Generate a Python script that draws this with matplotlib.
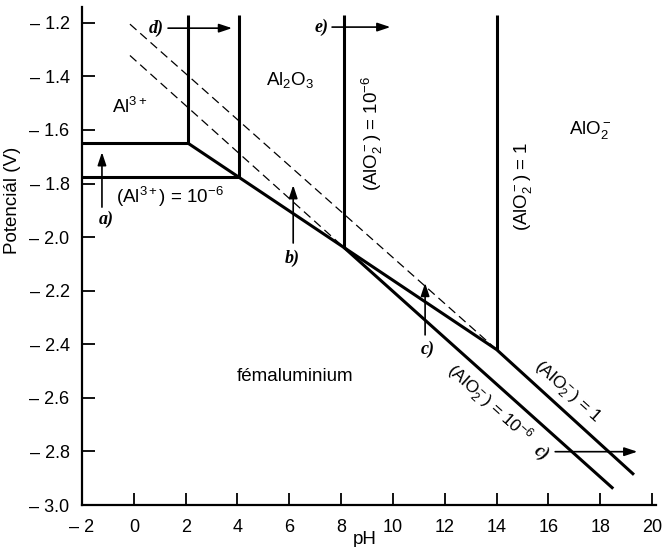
import matplotlib
matplotlib.use("Agg")
import matplotlib.pyplot as plt

plt.rcParams['font.family'] = ['Liberation Sans', 'DejaVu Sans']
plt.rcParams['mathtext.fontset'] = 'custom'
plt.rcParams['mathtext.rm'] = 'Liberation Sans'
plt.rcParams['mathtext.it'] = 'Liberation Sans:italic'

# axis ticks
ph_ticks = [-2, 0, 2, 4, 6, 8, 10, 12, 14, 16, 18, 20]
ph_labels = ['– 2', '0', '2', '4', '6', '8', '10', '12', '14', '16', '18', '20']
e_ticks = [-3.0, -2.8, -2.6, -2.4, -2.2, -2.0, -1.8, -1.6, -1.4, -1.2]
e_labels = ['– 3.0', '– 2.8', '– 2.6', '– 2.4', '– 2.2', '– 2.0', '– 1.8', '– 1.6', '– 1.4', '– 1.2']

# solid boundary lines (pH list, E list)
al3_1_ph = [-2, 2.1, 2.1]
al3_1_e = [-1.65, -1.65, -1.17]
al3_6_ph = [-2, 4.05, 4.05]
al3_6_e = [-1.775, -1.775, -1.17]
al2o3_ph = [2.1, 14.0]
al2o3_e = [-1.65, -2.42]
v8_ph = [8.1, 8.1]
v8_e = [-2.038, -1.17]
v14_ph = [14.0, 14.0]
v14_e = [-2.42, -1.17]
alo2_6_ph = [8.1, 18.5]
alo2_6_e = [-2.038, -2.939]
alo2_1_ph = [14.0, 19.3]
alo2_1_e = [-2.42, -2.887]

# dashed (metastable) extensions
dash_6_ph = [-0.15, 8.1]
dash_6_e = [-1.322, -2.038]
dash_1_ph = [-0.15, 14.0]
dash_1_e = [-1.205, -2.42]

# arrows: (label, label pH, label E, tail pH, tail E, head pH, head E)
arrows = [
    ('a)', -1.05, -1.935, -1.23, -1.888, -1.23, -1.683),
    ('b)', 6.1, -2.08, 6.15, -2.022, 6.15, -1.806),
    ('c)', 11.35, -2.42, 11.24, -2.365, 11.24, -2.171),
    ('d)', 1.15, -1.22, 1.32, -1.22, 3.79, -1.22),
    ('e)', 7.5, -1.216, 7.65, -1.216, 9.9, -1.216),
    ('c)', 16.15, -2.805, 16.26, -2.801, 19.43, -2.801),
]

fig = plt.figure(figsize=(6.62, 5.47), dpi=100)
ax = fig.add_axes([82/662, 42/547, 574/662, 498/547])

lw = 2.2
for xs, ys in [(al3_1_ph, al3_1_e), (al3_6_ph, al3_6_e), (al2o3_ph, al2o3_e),
               (v8_ph, v8_e), (v14_ph, v14_e), (alo2_6_ph, alo2_6_e), (alo2_1_ph, alo2_1_e)]:
    ax.plot(xs, ys, color='black', lw=lw, solid_capstyle='butt')
for xs, ys in [(dash_6_ph, dash_6_e), (dash_1_ph, dash_1_e)]:
    ax.plot(xs, ys, color='black', lw=0.9, ls=(0, (7, 4)))

for lab, lx, ly, tx, ty, hx, hy in arrows:
    ax.annotate('', xy=(hx, hy), xytext=(tx, ty),
                arrowprops=dict(arrowstyle='-|>,head_length=0.6,head_width=0.2', lw=1.2,
                                color='black', mutation_scale=13, shrinkA=0, shrinkB=0))
    rot = -35 if (lab == 'c)' and lx > 15) else 0
    ax.text(lx, ly, lab, family='Liberation Serif', style='italic', fontweight='bold',
            fontsize=13, ha='right' if ty == hy else 'center', va='center', rotation=rot)

fs = 13.5
ax.text(-0.15, -1.515, 'Al$^{3+}$', fontsize=fs, ha='center', va='center')
ax.text(6.03, -1.414, 'Al$_2$O$_3$', fontsize=fs, ha='center', va='center')
ax.text(17.6, -1.6, 'AlO$_2^-$', fontsize=fs, ha='center', va='center')
ax.text(1.4, -1.85, '(Al$^{3+}$) = 10$^{-6}$', fontsize=fs, ha='center', va='center')
ax.text(9.2, -1.611, '(AlO$_2^-$) = 10$^{-6}$', fontsize=fs, ha='center', va='center', rotation=90)
ax.text(15.03, -1.81, '(AlO$_2^-$) = 1', fontsize=fs, ha='center', va='center', rotation=90)
ax.text(6.22, -2.522, 'fémaluminium', fontsize=fs, ha='center', va='center')
ax.text(16.7, -2.578, '(AlO$_2^-$) = 1', fontsize=12.5, ha='center', va='center',
        rotation=-42, rotation_mode='anchor')
ax.text(13.7, -2.622, '(AlO$_2^-$) = 10$^{-6}$', fontsize=12.5, ha='center', va='center',
        rotation=-42, rotation_mode='anchor')

ax.set_xlim(-2, 20.15)
ax.set_ylim(-3.0, -1.141)
ax.set_xticks(ph_ticks)
ax.set_xticklabels(ph_labels)
ax.set_yticks(e_ticks)
ax.set_yticklabels(e_labels)
ax.tick_params(direction='in', length=9, width=1.3, labelsize=13)
ax.tick_params(axis='y', pad=9)
ax.tick_params(axis='x', pad=10)
for s in ['top', 'right']:
    ax.spines[s].set_visible(False)
for s in ['left', 'bottom']:
    ax.spines[s].set_linewidth(1.6)

fig.text(365/662, 1 - 539/547, 'pH', fontsize=13.5, ha='center', va='center')
fig.text(13/662, 1 - 200/547, 'Potenciál (V)', fontsize=13.5, ha='center', va='center', rotation=90)

fig.savefig('out.png', dpi=100)
